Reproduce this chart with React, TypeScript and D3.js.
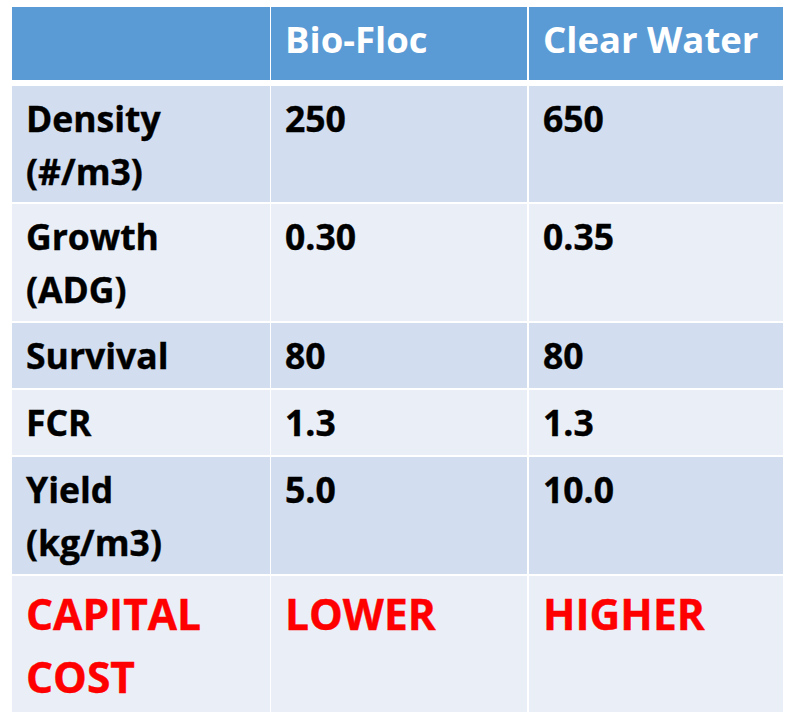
import React from 'react';
import * as d3 from 'd3';

// table contents
const columns = ['', 'Bio-Floc', 'Clear Water'];
const rowLabels = [['Density', '(#/m3)'], ['Growth', '(ADG)'], ['Survival'], ['FCR'], ['Yield', '(kg/m3)'], ['CAPITAL', 'COST']];
const bioFloc = ['250', '0.30', '80', '1.3', '5.0', 'LOWER'];
const clearWater = ['650', '0.35', '80', '1.3', '10.0', 'HIGHER'];
const rowHeights = [116, 117, 65, 65, 117, 136];

const W = 792;
const H = 721;
const left = 12;
const right = 783;
const top = 7;
const headerH = 73;
const headerGap = 6;
const gap = 2;
const font = '"Open Sans", Calibri, sans-serif';

export default function App() {
	const colX = d3.scaleOrdinal<string, number>().domain(columns).range([left, 271, 529]);
	const colW = [258, 256, right - 529];
	const starts = [0, ...Array.from(d3.cumsum(rowHeights.map(h => h + gap)))].map(v => v + top + headerH + headerGap);
	const cellValues = rowLabels.map((l, i) => [l, [bioFloc[i]], [clearWater[i]]]);

	return (
		<svg width={W} height={H} style={{ position: 'absolute', left: 0, top: 0, background: '#fff' }}>
			{columns.map((c, j) => (
				<g key={'h' + j}>
					<rect x={colX(c)} y={top} width={colW[j]} height={headerH} fill="#5B9BD5" />
					<text x={colX(c) + 14} y={top + 46} fill="#fff" fontFamily={font} fontWeight="bold" fontSize={36.5}>
						{c}
					</text>
				</g>
			))}
			{cellValues.map((cells, i) => {
				const last = i === cellValues.length - 1;
				return (
					<g key={'r' + i}>
						{cells.map((lines, j) => (
							<g key={j}>
								<rect x={colX(columns[j])} y={starts[i]} width={colW[j]} height={rowHeights[i]} fill={i % 2 === 0 ? '#D2DEEF' : '#EAEFF7'} />
								{lines.map((t, k) => (
									<text
										key={k}
										x={colX(columns[j]) + 14}
										y={starts[i] + (last ? 54 : 46) + k * (last ? 63 : 53)}
										fill={last ? '#FF0000' : '#000'}
										fontFamily={font}
										fontWeight="bold"
										fontSize={last ? 42.5 : 35.5}
										stroke={last ? '#FF0000' : '#000'}
										strokeWidth={0.4}
									>
										{t}
									</text>
								))}
							</g>
						))}
					</g>
				);
			})}
		</svg>
	);
}
